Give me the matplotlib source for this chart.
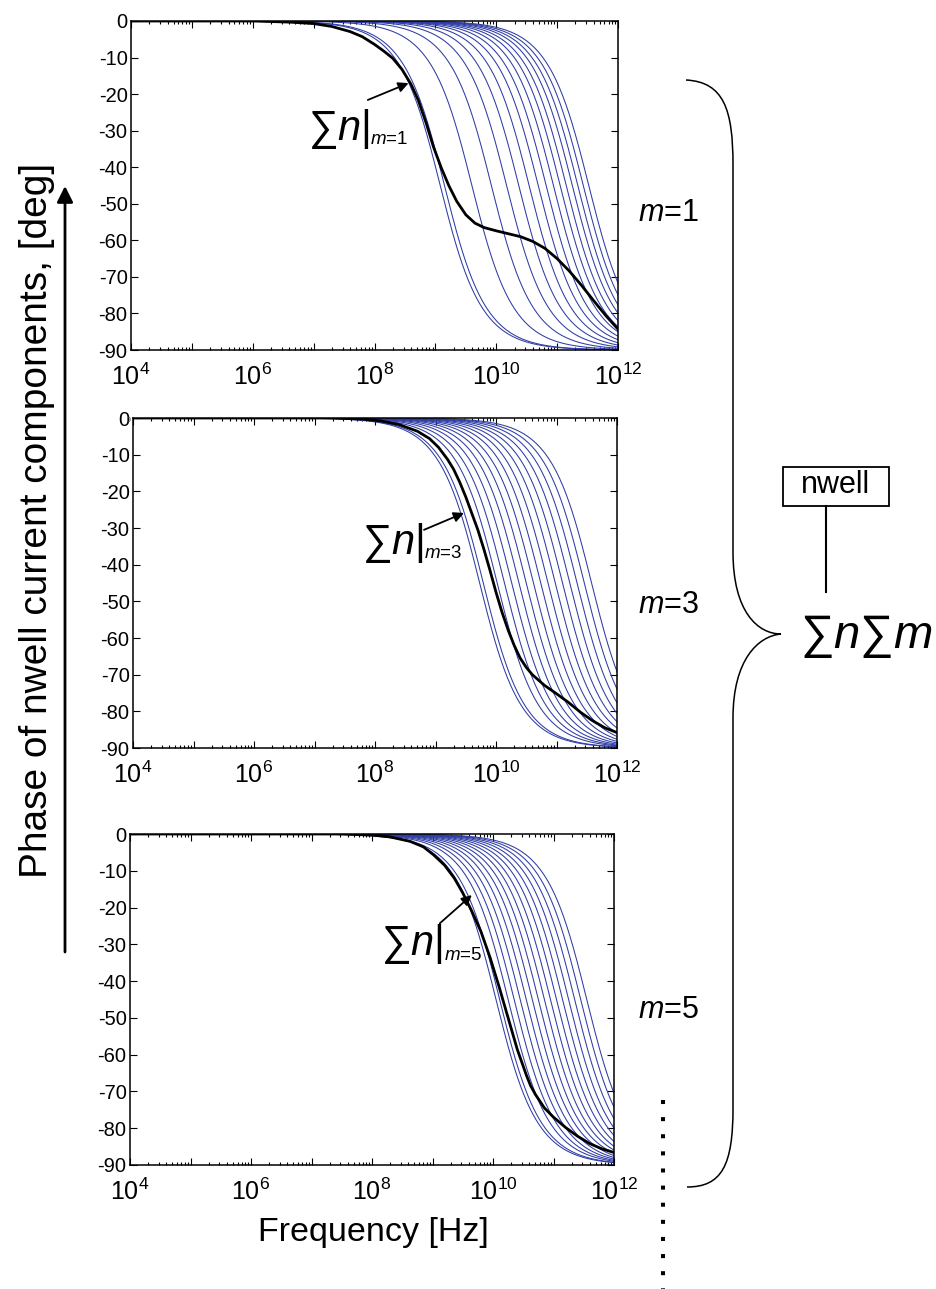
import numpy as np
import matplotlib
matplotlib.use('Agg')
import matplotlib.pyplot as plt
from matplotlib.path import Path
from matplotlib.patches import PathPatch, Rectangle

plt.rcParams['font.family'] = ['Liberation Sans', 'DejaVu Sans']
plt.rcParams['mathtext.fontset'] = 'custom'
plt.rcParams['mathtext.rm'] = 'Liberation Sans'
plt.rcParams['mathtext.it'] = 'Liberation Sans:italic'
plt.rcParams['mathtext.bf'] = 'Liberation Sans:bold'
plt.rcParams['axes.unicode_minus'] = False

# ---- data ----
m_values = [1, 3, 5]

# corner frequencies (log10 Hz) of the single-n components, one list per m
corner_logf_m1 = [9.08, 9.15, 9.60, 9.92, 10.17, 10.37, 10.54, 10.69, 10.82,
                  10.94, 11.05, 11.15, 11.25, 11.34, 11.43, 11.52]
corner_logf_m3 = [9.73, 9.79, 10.02, 10.14, 10.26, 10.38, 10.50, 10.62, 10.74,
                  10.86, 10.98, 11.10, 11.22, 11.34, 11.46, 11.58]
corner_logf_m5 = [10.05, 10.11, 10.25, 10.35, 10.45, 10.55, 10.65, 10.75, 10.85,
                  10.95, 11.05, 11.15, 11.25, 11.35, 11.45, 11.55]

# summed phase (black curve), log10 frequency / degrees
sum_logf_m1 = [4.0, 6.0, 6.6, 7.0, 7.3, 7.6, 7.8, 8.0, 8.15, 8.3, 8.45, 8.6,
               8.72, 8.85, 8.97, 9.1, 9.22, 9.35, 9.5, 9.65, 9.8, 10.0, 10.2,
               10.4, 10.6, 10.8, 11.0, 11.2, 11.4, 11.6, 11.8, 12.0]
sum_phase_m1 = [0, 0, -0.3, -0.7, -1.5, -2.9, -4.3, -6.4, -8.2, -10.2, -13.2,
                -17.3, -21.7, -28.0, -34.5, -40.3, -45.0, -49.3, -53.0, -55.3,
                -56.5, -57.4, -58.2, -59.0, -60.3, -62.2, -65.0, -68.4, -72.3,
                -76.5, -80.6, -84.3]

sum_logf_m3 = [4.0, 7.3, 7.8, 8.1, 8.4, 8.7, 8.9, 9.05, 9.2, 9.3, 9.4, 9.5, 9.6,
               9.7, 9.8, 9.9, 10.0, 10.1, 10.2, 10.3, 10.4, 10.5, 10.6, 10.8,
               11.0, 11.2, 11.4, 11.6, 11.8, 12.0]
sum_phase_m3 = [0, 0, -0.3, -0.8, -1.8, -3.6, -5.6, -8.0, -11.3, -14.0, -17.5,
                -21.5, -26.0, -30.5, -35.8, -41.5, -47.5, -53.0, -57.8, -62.0,
                -65.5, -68.0, -70.0, -72.9, -75.2, -77.6, -80.3, -82.6, -84.5,
                -85.8]

sum_logf_m5 = [4.0, 7.5, 8.0, 8.3, 8.63, 8.85, 9.02, 9.2, 9.36, 9.5, 9.65, 9.8,
               9.95, 10.1, 10.25, 10.4, 10.55, 10.62, 10.7, 10.85, 11.0, 11.2,
               11.4, 11.6, 11.8, 12.0]
sum_phase_m5 = [0, 0, -0.3, -0.8, -2.0, -3.5, -5.7, -8.5, -12.0, -16.0, -21.0,
                -26.5, -33.5, -41.5, -50.0, -58.5, -65.5, -68.4, -70.8, -74.5,
                -77.0, -79.8, -82.2, -84.2, -85.6, -86.6]

phase_ticks = [0, -10, -20, -30, -40, -50, -60, -70, -80, -90]
phase_labels = ['0', '-10', '-20', '-30', '-40', '-50', '-60', '-70', '-80', '-90']
decades = [4, 5, 6, 7, 8, 9, 10, 11, 12]
decade_labels = ['$10^{4}$', '', '$10^{6}$', '', '$10^{8}$', '', '$10^{10}$', '',
                 '$10^{12}$']

# ---- layout ----
W, H = 936, 1289
BLUE = '#2e3ca4'


def rect(left, top, right, bottom):
    return [left / W, 1 - bottom / H, (right - left) / W, (bottom - top) / H]


panels = [
    dict(box=rect(131, 21, 618, 350), corners=corner_logf_m1,
         sx=sum_logf_m1, sy=sum_phase_m1,
         text=(6.9, -32.5), tail=(7.89, -21.6), tip=(8.56, -17.0)),
    dict(box=rect(133, 418, 617, 748), corners=corner_logf_m3,
         sx=sum_logf_m3, sy=sum_phase_m3,
         text=(7.78, -37.0), tail=(8.81, -30.5), tip=(9.47, -25.9)),
    dict(box=rect(130, 834, 614, 1165), corners=corner_logf_m5,
         sx=sum_logf_m5, sy=sum_phase_m5,
         text=(8.15, -33.0), tail=(9.12, -24.3), tip=(9.65, -16.6)),
]

fig = plt.figure(figsize=(W / 100, H / 100), dpi=100)
freq = np.logspace(4, 12, 800)

for p, m in zip(panels, m_values):
    ax = fig.add_axes(p['box'])
    for lf in p['corners']:
        ax.plot(freq, -np.degrees(np.arctan(freq / 10 ** lf)), color=BLUE, lw=0.75)
    ax.plot(10 ** np.array(p['sx']), p['sy'], color='black', lw=2.0)

    ax.set_xscale('log')
    ax.set_xlim(1e4, 1e12)
    ax.set_ylim(-90, 0)
    ax.set_xticks([10.0 ** d for d in decades])
    ax.set_xticklabels(decade_labels, fontsize=18)
    ax.xaxis.set_minor_locator(matplotlib.ticker.LogLocator(base=10, subs=np.arange(2, 10)))
    ax.xaxis.set_minor_formatter(matplotlib.ticker.NullFormatter())
    ax.set_yticks(phase_ticks)
    ax.set_yticklabels(phase_labels, fontsize=14.5)
    ax.tick_params(which='both', direction='in', top=True, right=True, width=0.8)
    ax.tick_params(which='major', length=5)
    ax.tick_params(which='minor', length=2.5)
    ax.tick_params(axis='x', pad=9.5)
    ax.tick_params(axis='y', pad=2.5)
    for s in ax.spines.values():
        s.set_linewidth(1.1)

    lab = ax.text(10 ** p['text'][0], p['text'][1], r'$\sum n|$', fontsize=30,
                  ha='left', va='baseline')
    ax.annotate('$m$=%d' % m, xy=(1, 0), xycoords=lab, xytext=(0.5, 2),
                textcoords='offset points', ha='left', va='bottom', fontsize=13.5)
    ax.annotate('', xy=(10 ** p['tip'][0], p['tip'][1]),
                xytext=(10 ** p['tail'][0], p['tail'][1]),
                arrowprops=dict(arrowstyle='-|>', color='black', lw=1.3,
                                mutation_scale=15, shrinkA=0, shrinkB=0))

# overlay in pixel coordinates for the decorations
ov = fig.add_axes([0, 0, 1, 1])
ov.set_xlim(0, W)
ov.set_ylim(H, 0)
ov.axis('off')

ov.text(37, 520, 'Phase of nwell current components, [deg]', rotation=90,
        fontsize=28, ha='center', va='center')
ov.annotate('', xy=(65, 186), xytext=(65, 952),
            arrowprops=dict(arrowstyle='-|>', color='black', lw=2.0,
                            mutation_scale=24, shrinkA=0, shrinkB=0))
ov.text(373, 1232, 'Frequency [Hz]', fontsize=24.5, ha='center', va='center')
ov.text(127, 421, '0', fontsize=5, color='#555555', ha='left', va='center')

for y, m in zip([213, 605, 1010], m_values):
    ov.text(638, y, '$m$=%d' % m, fontsize=22, ha='left', va='center')

# curly brace
verts = [(686, 80), (724, 82), (733, 110), (733, 165),
         (733, 552),
         (733, 612), (758, 634), (781, 634),
         (758, 636), (733, 660), (733, 718),
         (733, 1108),
         (733, 1165), (722, 1187), (687, 1187)]
codes = [Path.MOVETO, Path.CURVE4, Path.CURVE4, Path.CURVE4,
         Path.LINETO,
         Path.CURVE4, Path.CURVE4, Path.CURVE4,
         Path.CURVE4, Path.CURVE4, Path.CURVE4,
         Path.LINETO,
         Path.CURVE4, Path.CURVE4, Path.CURVE4]
ov.add_patch(PathPatch(Path(verts, codes), fill=False, lw=1.1, ec='black'))

ov.add_patch(Rectangle((783, 467), 106, 39, fill=False, lw=1.3, ec='black'))
ov.text(836, 485, 'nwell', fontsize=22, ha='center', va='center')
ov.plot([826, 826], [506, 592], color='black', lw=1.5)
ov.text(866, 636, r'$\sum n\sum m$', fontsize=34, ha='center', va='center')

ov.plot([663, 663], [1100, 1289], color='black', lw=2.9, ls=(0, (1, 3.25)))

fig.savefig('out.png', dpi=100)
